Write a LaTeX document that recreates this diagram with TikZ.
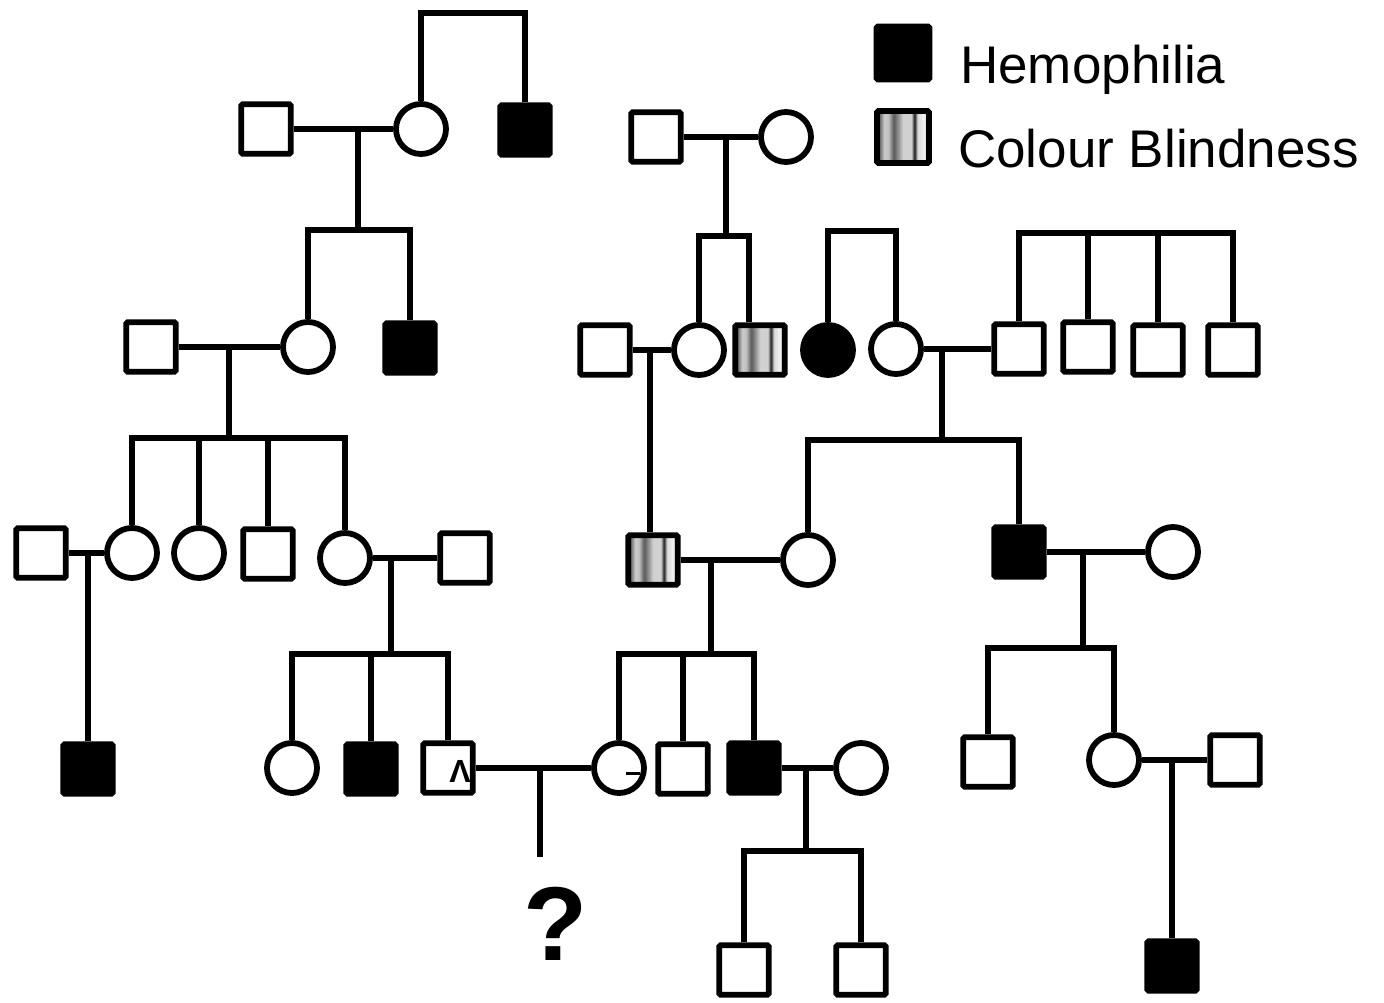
\documentclass[tikz,border=0pt]{standalone}
\usepackage{fontspec}
\setmainfont{Liberation Sans}
\pgfdeclarehorizontalshading{cbstripes}{100bp}{color(0bp)=(black!80); color(25bp)=(black!80); color(28bp)=(black!55); color(32bp)=(black!20); color(36bp)=(black!25); color(41bp)=(black!65); color(46bp)=(black!40); color(50bp)=(black!18); color(58bp)=(black!18); color(61bp)=(black!90); color(64bp)=(black!15); color(70bp)=(black!5); color(75bp)=(black!30); color(100bp)=(black!30)}
\tikzset{
  sq/.style={draw, rectangle, minimum size=49.5pt, inner sep=0pt, line width=5.8pt, fill=white, rounded corners=1.5pt},
  fsq/.style={draw, rectangle, minimum size=49.5pt, inner sep=0pt, line width=5.8pt, fill=black, rounded corners=1.5pt},
  cbsq/.style={draw, rectangle, minimum size=49.5pt, inner sep=0pt, line width=5.8pt, shade, shading=cbstripes, rounded corners=1.5pt},
  ci/.style={draw, circle, minimum size=50pt, inner sep=0pt, line width=5.8pt, fill=white},
  fci/.style={draw, circle, minimum size=50pt, inner sep=0pt, line width=5.8pt, fill=black},
  ln/.style={line width=5.8pt},
  legtext/.style={anchor=base west, inner sep=0pt, font=\fontsize{53}{53}\selectfont},
}
\begin{document}
\begin{tikzpicture}[x=1pt,y=-1pt]
\useasboundingbox (0,0) rectangle (1384,1002);
% ---- nodes: generation I
\node[sq]  (S1) at (266,129) {};
\node[ci]  (C1) at (421,129) {};
\node[fsq] (F1) at (525,130) {};
\node[sq]  (S7) at (656,137) {};
\node[ci]  (C8) at (786,137) {};
% ---- generation II
\node[sq]  (S2) at (151,347) {};
\node[ci]  (C2) at (308,347) {};
\node[fsq] (F2) at (410,348) {};
\node[sq]  (S8) at (605,350) {};
\node[ci]  (C9) at (699,350) {};
\node[cbsq] (CB1) at (760,350) {};
\node[fci] (FC1) at (828,350) {};
\node[ci]  (C10) at (896,349) {};
\node[sq]  (S9) at (1019,349) {};
\node[sq]  (S10) at (1088,347) {};
\node[sq]  (S11) at (1158,350) {};
\node[sq]  (S12) at (1233,350) {};
% ---- generation III
\node[sq]  (S3) at (41,553) {};
\node[ci]  (C3) at (132,553) {};
\node[ci]  (C4) at (199,553) {};
\node[sq]  (S4) at (268,554) {};
\node[ci]  (C5) at (345,558) {};
\node[sq]  (S5) at (465,558) {};
\node[cbsq] (CB2) at (653,560) {};
\node[ci]  (C11) at (808,560) {};
\node[fsq] (F5) at (1019,552) {};
\node[ci]  (C12) at (1173,552) {};
% ---- generation IV
\node[fsq] (F3) at (88,769) {};
\node[ci]  (C6) at (292,768) {};
\node[fsq] (F4) at (371,769) {};
\node[sq]  (S6) at (448,768) {};
\node[ci]  (C7) at (619,768) {};
\node[sq]  (S13) at (683,769) {};
\node[fsq] (F6) at (754,768) {};
\node[ci]  (C13) at (861,768) {};
\node[sq]  (S16) at (988,762) {};
\node[ci]  (C14) at (1114,760) {};
\node[sq]  (S17) at (1235,760) {};
% ---- generation V
\node[sq]  (S14) at (744,970) {};
\node[sq]  (S15) at (861,970) {};
\node[fsq] (F7) at (1172,966) {};
\node[anchor=base, inner sep=0pt, font=\bfseries\fontsize{105}{105}\selectfont] (Q) at (556,960) {?};
% ---- marks
\node[anchor=base, inner sep=0pt, font=\bfseries\fontsize{32}{32}\selectfont] (caret) at (460,782) {Λ};
\coordinate (dashL) at (626,773);
\coordinate (dashR) at (640,773);
\draw[line width=3pt] (dashL) -- (dashR);
% ---- legend
\node[fsq, minimum size=53pt] (LF) at (903,53) {};
\node[cbsq, minimum size=52pt] (LC) at (903,137) {};
\node[legtext] (LH) at (960,83) {Hemophilia};
\node[legtext] (LB) at (958,167) {Colour Blindness};
% ---- junction coordinates
\coordinate (t1) at (473,13);
\coordinate (m1) at (358,129);
\coordinate (b1) at (358,230);
\coordinate (m2) at (229,347);
\coordinate (b2) at (229,438);
\coordinate (m3) at (88,553);
\coordinate (m4) at (391,558);
\coordinate (b4) at (391,654);
\coordinate (m5) at (540,768);
\coordinate (q1) at (540,857);
\coordinate (m6) at (726,137);
\coordinate (b6) at (726,236);
\coordinate (t2) at (862,231);
\coordinate (b12) at (1126,233);
\coordinate (m7) at (650,350);
\coordinate (m8) at (942,349);
\coordinate (b8) at (942,440);
\coordinate (m9) at (711,560);
\coordinate (b9) at (711,654);
\coordinate (m10) at (1083,552);
\coordinate (b10) at (1083,648);
\coordinate (m11) at (806,768);
\coordinate (b11) at (806,851);
\coordinate (m12) at (1172,760);
% ---- connectors
\draw[ln] (C1.north) |- (t1) -| (F1.north);
\draw[ln] (S1) -- (C1);
\draw[ln] (m1) -- (b1);
\draw[ln] (C2.north) |- (b1) -| (F2.north);
\draw[ln] (S2) -- (C2);
\draw[ln] (m2) -- (b2);
\draw[ln] (C3.north) |- (b2) -| (C5.north);
\draw[ln] (C4.north) -- (C4.north |- b2);
\draw[ln] (S4.north) -- (S4.north |- b2);
\draw[ln] (S3) -- (C3);
\draw[ln] (m3) -- (F3.north);
\draw[ln] (C5) -- (S5);
\draw[ln] (m4) -- (b4);
\draw[ln] (C6.north) |- (b4) -| (S6.north);
\draw[ln] (F4.north) -- (F4.north |- b4);
\draw[ln] (S6) -- (C7);
\draw[ln] (m5) -- (q1);
\draw[ln] (S7) -- (C8);
\draw[ln] (m6) -- (b6);
\draw[ln] (C9.north) |- (b6) -| ([xshift=-11pt]CB1.north);
\draw[ln] (FC1.north) |- (t2) -| (C10.north);
\draw[ln] (S9.north) |- (b12) -| (S12.north);
\draw[ln] (S10.north) -- (S10.north |- b12);
\draw[ln] (S11.north) -- (S11.north |- b12);
\draw[ln] (S8) -- (C9);
\draw[ln] (m7) -- (m7 |- CB2.north);
\draw[ln] (C10) -- (S9);
\draw[ln] (m8) -- (b8);
\draw[ln] (C11.north) |- (b8) -| (F5.north);
\draw[ln] (CB2) -- (C11);
\draw[ln] (m9) -- (b9);
\draw[ln] (C7.north) |- (b9) -| (F6.north);
\draw[ln] (S13.north) -- (S13.north |- b9);
\draw[ln] (F5) -- (C12);
\draw[ln] (m10) -- (b10);
\draw[ln] (S16.north) |- (b10) -| (C14.north);
\draw[ln] (F6) -- (C13);
\draw[ln] (m11) -- (b11);
\draw[ln] (S14.north) |- (b11) -| (S15.north);
\draw[ln] (C14) -- (S17);
\draw[ln] (m12) -- (F7.north);
\end{tikzpicture}
\end{document}
